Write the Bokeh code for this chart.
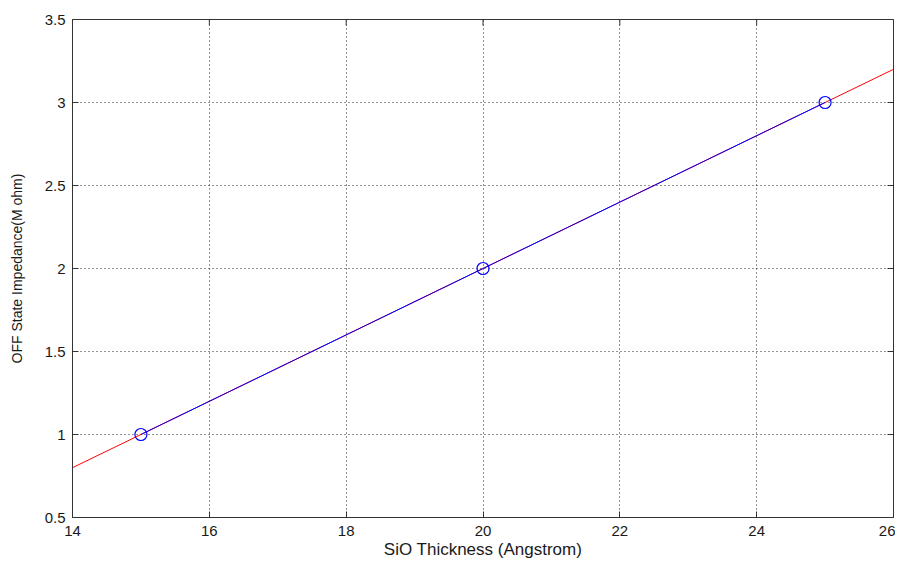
import math
from bokeh.plotting import figure
from bokeh.models import FixedTicker, Range1d
from bokeh.embed import file_html
from bokeh.resources import INLINE

# data
fit_x = [14, 26]
fit_y = [0.8, 3.2]
thickness = [15, 20, 25]
impedance = [1.0, 2.0, 3.0]
x_ticks = [14, 16, 18, 20, 22, 24, 26]
y_ticks = [0.5, 1, 1.5, 2, 2.5, 3, 3.5]
x_title = "SiO Thickness (Angstrom)"
y_title = "OFF State Impedance(M ohm)"

FONT = "Liberation Sans"
AX = "#333333"
TXT = "#1a1a1a"

p = figure(width=895, height=555, output_backend="svg", toolbar_location=None,
           x_range=Range1d(x_ticks[0], x_ticks[-1]), y_range=Range1d(y_ticks[0], y_ticks[-1]),
           min_border_left=72, min_border_right=2, min_border_top=19, min_border_bottom=38)
p.frame_width = 821
p.frame_height = 498

p.outline_line_color = AX
p.outline_line_width = 1
p.background_fill_color = "white"
p.border_fill_color = "white"

p.grid.grid_line_color = "black"
p.grid.grid_line_dash = "1 3"
p.grid.grid_line_alpha = 0.85
p.xgrid.ticker = FixedTicker(ticks=x_ticks)
p.ygrid.ticker = FixedTicker(ticks=y_ticks)

p.line(fit_x, fit_y, line_color="red", line_width=1)
p.line(thickness, impedance, line_color="blue", line_width=1)
p.scatter(thickness, impedance, marker="circle", size=12, fill_color=None,
          line_color="blue", line_width=1.2)

# inward ticks on top and right edges (MATLAB box style)
p.ray(x=x_ticks, y=[y_ticks[-1]] * len(x_ticks), length=6, length_units="screen",
      angle=-math.pi / 2, line_color=AX, line_width=1)
p.ray(x=[x_ticks[-1]] * len(y_ticks), y=y_ticks, length=6, length_units="screen",
      angle=math.pi, line_color=AX, line_width=1)

for ax in (p.xaxis[0], p.yaxis[0]):
    ax.major_tick_in = 6
    ax.major_tick_out = 0
    ax.minor_tick_in = 0
    ax.minor_tick_out = 0
    ax.axis_line_color = AX
    ax.major_tick_line_color = AX
    ax.major_label_text_font = FONT
    ax.major_label_text_font_size = "15px"
    ax.major_label_text_color = TXT
    ax.axis_label_text_font = FONT
    ax.axis_label_text_font_style = "normal"
    ax.axis_label_text_color = TXT

p.xaxis[0].ticker = FixedTicker(ticks=x_ticks)
p.yaxis[0].ticker = FixedTicker(ticks=y_ticks)
p.xaxis[0].axis_label = x_title
p.yaxis[0].axis_label = y_title
p.xaxis[0].axis_label_text_font_size = "17px"
p.yaxis[0].axis_label_text_font_size = "14px"
p.xaxis[0].major_label_standoff = 8
p.yaxis[0].major_label_standoff = 7
p.xaxis[0].axis_label_standoff = 1
p.yaxis[0].axis_label_standoff = 17

open("out.html", "w").write(file_html(p, INLINE))
